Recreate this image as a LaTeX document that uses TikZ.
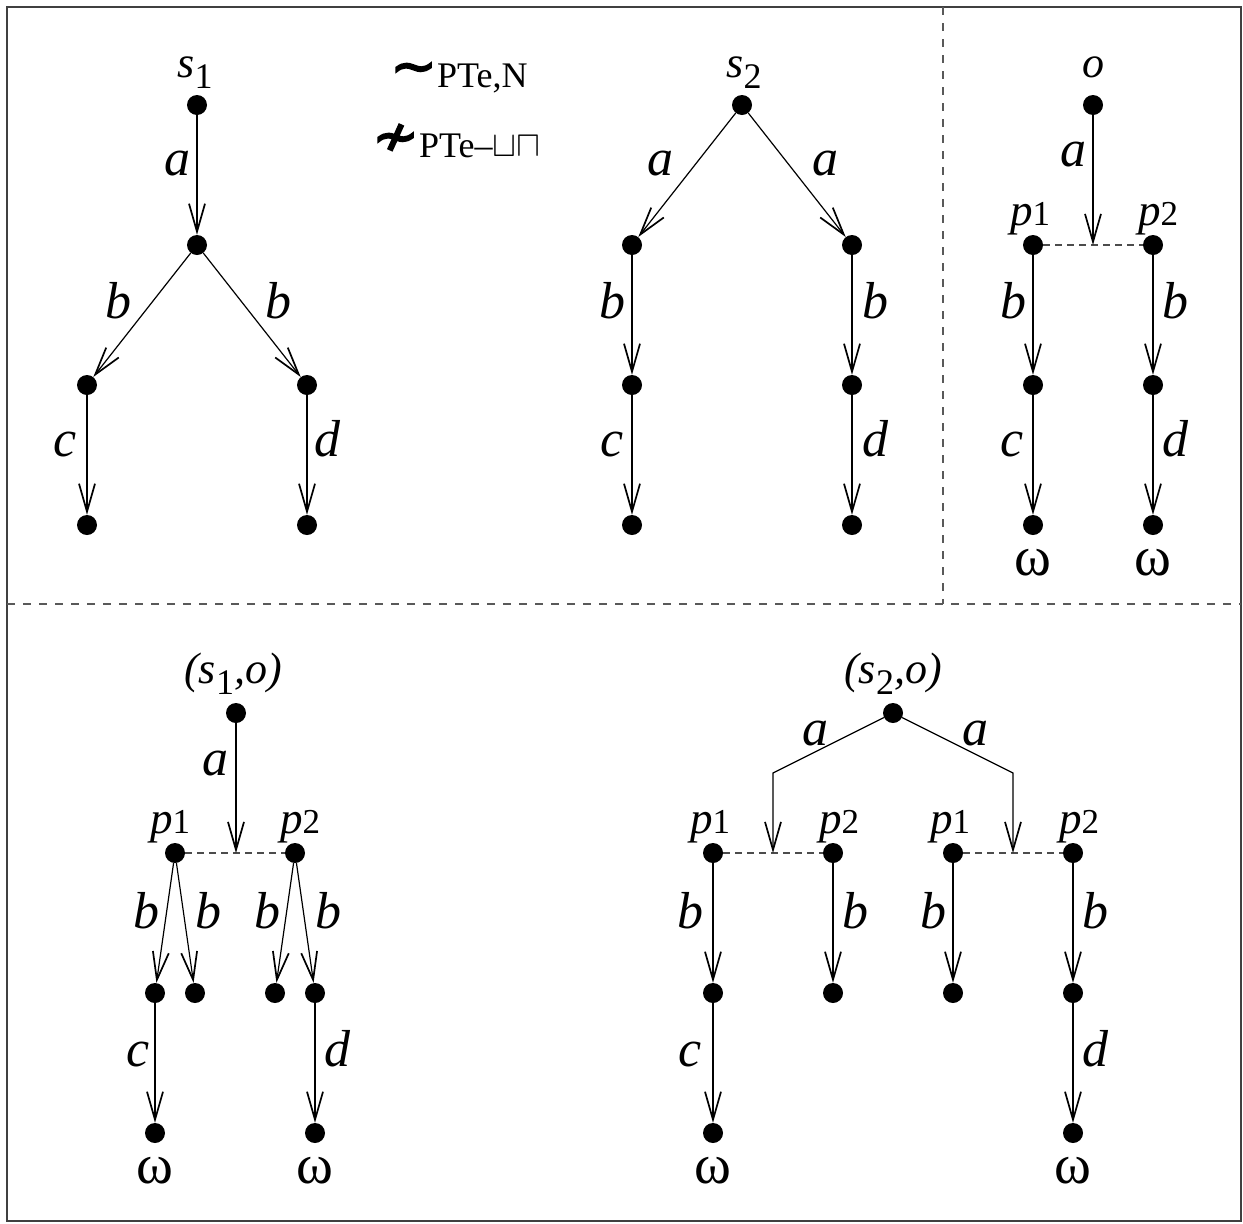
\RequirePackage{fix-cm}
\documentclass[tikz,border=0pt]{standalone}
\usepackage{fontspec}
\setmainfont{Liberation Serif}
\newfontfamily\relfont[FakeBold=2.5]{DejaVu Sans}
\usetikzlibrary{arrows.meta}

\newcommand\fs[1]{\fontsize{#1}{#1}\selectfont}
% lowered upright index for state names
\newcommand\ssub[1]{\raisebox{-11pt}{\fs{36}\upshape #1}}
% upright index for place names
\newcommand\psub[1]{{\fs{35}\upshape #1}}

\tikzset{
  dot/.style={circle,fill=black,inner sep=0pt,minimum size=20pt},
  arr/.style={line width=1.2pt,-{Straight Barb[length=28pt,width=16pt,line width=1.7pt]}},
  elab/.style={anchor=base,inner sep=0pt,font=\fs{52}\itshape},
  slab/.style={anchor=base,inner sep=0pt,font=\fs{44}\itshape},
  plab/.style={anchor=base,inner sep=0pt,font=\fs{45}\itshape},
  omg/.style={anchor=base,inner sep=0pt,font=\fs{56}},
  pjoin/.style={line width=1.2pt,draw=black!70,dash pattern=on 7pt off 5pt},
  divider/.style={line width=1.4pt,draw=black!65,dash pattern=on 8pt off 8pt},
}

\begin{document}
\begin{tikzpicture}[x=1pt,y=-1pt]
\useasboundingbox (0,0) rectangle (1243,1224);

% frame and panel dividers
\draw[line width=1.5pt,draw=black!75] (7,7) rectangle (1241,1221);
\coordinate (hl) at (7,604);
\coordinate (hr) at (1241,604);
\coordinate (vt) at (943,7);
\coordinate (vb) at (943,604);
\draw[divider] (hl) -- (hr);
\draw[divider] (vt) -- (vb);

% relation names
\node[anchor=base west,inner sep=0pt] (rel1) at (390,87)
  {\raisebox{2pt}{\relfont\fs{56}∼}\fs{36}PTe,N};
\node[anchor=base west,inner sep=0pt] (rel2) at (372,157)
  {\raisebox{2pt}{\relfont\fs{56}≁}\fs{36}PTe–\raisebox{1pt}{\fs{36}${\sqcup}{\sqcap}$}};

% ---------- tree of s1 ----------
\node[dot] (s1) at (197,105) {};
\node[dot] (s1m) at (197,245) {};
\node[dot] (s1l) at (87,385) {};
\node[dot] (s1r) at (307,385) {};
\node[dot] (s1ll) at (87,525) {};
\node[dot] (s1rr) at (307,525) {};
\node[slab] (s1t) at (195,77) {s\ssub{1}};
\draw[arr] (s1) -- (s1m);
\draw[arr] (s1m) -- (s1l);
\draw[arr] (s1m) -- (s1r);
\draw[arr] (s1l) -- (s1ll);
\draw[arr] (s1r) -- (s1rr);
\node[elab] (s1a) at (177,175) {a};
\node[elab] (s1b1) at (118,318) {b};
\node[elab] (s1b2) at (278,318) {b};
\node[elab] (s1c) at (65,456) {c};
\node[elab] (s1d) at (327,456) {d};

% ---------- tree of s2 ----------
\node[dot] (s2) at (742,105) {};
\node[dot] (s2l) at (632,245) {};
\node[dot] (s2r) at (852,245) {};
\node[dot] (s2ll) at (632,385) {};
\node[dot] (s2rr) at (852,385) {};
\node[dot] (s2lll) at (632,525) {};
\node[dot] (s2rrr) at (852,525) {};
\node[slab] (s2t) at (744,77) {s\ssub{2}};
\draw[arr] (s2) -- (s2l);
\draw[arr] (s2) -- (s2r);
\draw[arr] (s2l) -- (s2ll);
\draw[arr] (s2r) -- (s2rr);
\draw[arr] (s2ll) -- (s2lll);
\draw[arr] (s2rr) -- (s2rrr);
\node[elab] (s2a1) at (660,175) {a};
\node[elab] (s2a2) at (825,175) {a};
\node[elab] (s2b1) at (612,318) {b};
\node[elab] (s2b2) at (875,318) {b};
\node[elab] (s2c) at (612,456) {c};
\node[elab] (s2d) at (875,456) {d};

% ---------- observer o ----------
\node[dot] (o) at (1093,105) {};
\node[dot] (op1) at (1033,245) {};
\node[dot] (op2) at (1153,245) {};
\node[dot] (ob1) at (1033,385) {};
\node[dot] (ob2) at (1153,385) {};
\node[dot] (oc) at (1033,525) {};
\node[dot] (od) at (1153,525) {};
\coordinate (om) at (1093,245);
\node[slab] (ot) at (1093,77) {o};
\node[plab] (op1t) at (1030,225) {p\psub{1}};
\node[plab] (op2t) at (1158,225) {p\psub{2}};
\draw[pjoin] (op1) -- (op2);
\draw[arr] (o) -- (om);
\draw[arr] (op1) -- (ob1);
\draw[arr] (op2) -- (ob2);
\draw[arr] (ob1) -- (oc);
\draw[arr] (ob2) -- (od);
\node[elab] (oa) at (1073,166) {a};
\node[elab] (ob1t) at (1013,318) {b};
\node[elab] (ob2t) at (1175,318) {b};
\node[elab] (oct) at (1012,456) {c};
\node[elab] (odt) at (1175,456) {d};
\node[omg] (ow1) at (1033,575) {ω};
\node[omg] (ow2) at (1153,575) {ω};

% ---------- product (s1,o) ----------
\node[dot] (q) at (236,713) {};
\node[dot] (qp1) at (175,853) {};
\node[dot] (qp2) at (295,853) {};
\node[dot] (q11) at (155,993) {};
\node[dot] (q12) at (195,993) {};
\node[dot] (q21) at (275,993) {};
\node[dot] (q22) at (315,993) {};
\node[dot] (qc) at (155,1133) {};
\node[dot] (qd) at (315,1133) {};
\coordinate (qm) at (236,853);
\node[slab] (qt) at (233,683) {(s\ssub{1},o)};
\node[plab] (qp1t) at (170,833) {p\psub{1}};
\node[plab] (qp2t) at (300,833) {p\psub{2}};
\draw[pjoin] (qp1) -- (qp2);
\draw[arr] (q) -- (qm);
\draw[arr] (qp1) -- (q11);
\draw[arr] (qp1) -- (q12);
\draw[arr] (qp2) -- (q21);
\draw[arr] (qp2) -- (q22);
\draw[arr] (q11) -- (qc);
\draw[arr] (q22) -- (qd);
\node[elab] (qa) at (215,775) {a};
\node[elab] (qb1) at (146,928) {b};
\node[elab] (qb2) at (208,928) {b};
\node[elab] (qb3) at (267,928) {b};
\node[elab] (qb4) at (328,928) {b};
\node[elab] (qct) at (138,1066) {c};
\node[elab] (qdt) at (337,1066) {d};
\node[omg] (qw1) at (155,1183) {ω};
\node[omg] (qw2) at (315,1183) {ω};

% ---------- product (s2,o) ----------
\node[dot] (r) at (893,713) {};
\coordinate (rkl) at (773,773);
\coordinate (rkr) at (1013,773);
\coordinate (rml) at (773,853);
\coordinate (rmr) at (1013,853);
\node[dot] (rp1) at (713,853) {};
\node[dot] (rp2) at (833,853) {};
\node[dot] (rp3) at (953,853) {};
\node[dot] (rp4) at (1073,853) {};
\node[dot] (rb1) at (713,993) {};
\node[dot] (rb2) at (833,993) {};
\node[dot] (rb3) at (953,993) {};
\node[dot] (rb4) at (1073,993) {};
\node[dot] (rc) at (713,1133) {};
\node[dot] (rd) at (1073,1133) {};
\node[slab] (rt) at (893,683) {(s\ssub{2},o)};
\node[plab] (rp1t) at (710,833) {p\psub{1}};
\node[plab] (rp2t) at (839,833) {p\psub{2}};
\node[plab] (rp3t) at (950,833) {p\psub{1}};
\node[plab] (rp4t) at (1079,833) {p\psub{2}};
\draw[pjoin] (rp1) -- (rp2);
\draw[pjoin] (rp3) -- (rp4);
\draw[arr] (r) -- (rkl) -- (rml);
\draw[arr] (r) -- (rkr) -- (rmr);
\draw[arr] (rp1) -- (rb1);
\draw[arr] (rp2) -- (rb2);
\draw[arr] (rp3) -- (rb3);
\draw[arr] (rp4) -- (rb4);
\draw[arr] (rb1) -- (rc);
\draw[arr] (rb4) -- (rd);
\node[elab] (ra1) at (815,745) {a};
\node[elab] (ra2) at (975,745) {a};
\node[elab] (rb1t) at (690,928) {b};
\node[elab] (rb2t) at (855,928) {b};
\node[elab] (rb3t) at (933,928) {b};
\node[elab] (rb4t) at (1095,928) {b};
\node[elab] (rct) at (690,1066) {c};
\node[elab] (rdt) at (1095,1066) {d};
\node[omg] (rw1) at (713,1183) {ω};
\node[omg] (rw2) at (1073,1183) {ω};
\end{tikzpicture}
\end{document}
